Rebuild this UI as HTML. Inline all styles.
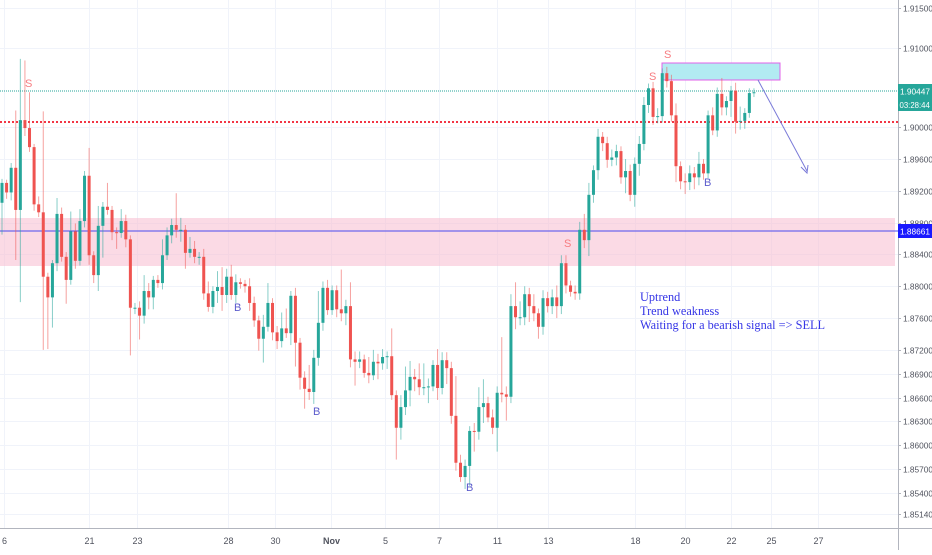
<!DOCTYPE html>
<html><head><meta charset="utf-8">
<style>
html,body{margin:0;padding:0;background:#fff;}
body{width:932px;height:550px;overflow:hidden;font-family:"Liberation Sans",sans-serif;}
svg text{font-family:"Liberation Sans",sans-serif;}
</style></head>
<body>
<svg id="chart" width="932" height="550" viewBox="0 0 932 550" xmlns="http://www.w3.org/2000/svg">
<rect x="0" y="0" width="932" height="550" fill="#fff"/>
<g id="grid"></g>
<rect x="0" y="218" width="895" height="48" fill="#f8bbd0" fill-opacity="0.55"/>
<line x1="0" y1="231" x2="898" y2="231" stroke="#4a4af0" stroke-width="1"/>
<line x1="0" y1="122" x2="898" y2="122" stroke="#f23645" stroke-width="2" stroke-dasharray="2,2"/>
<line x1="0" y1="91" x2="898" y2="91" stroke="#26a69a" stroke-width="1" stroke-dasharray="1,1"/>
<rect x="662" y="63" width="118" height="17" fill="#b2ebf2" stroke="#e060e8" stroke-width="1"/>
<g id="candles"></g>
<line x1="758" y1="80" x2="807" y2="171" stroke="#7a7ad8" stroke-width="1"/>
<path d="M801,167 L807,173 L808,165" fill="none" stroke="#7a7ad8" stroke-width="1"/>
<g font-size="11">
<text x="25" y="87" fill="#f77c80">S</text>
<text x="664" y="58" fill="#f77c80">S</text>
<text x="649" y="80" fill="#f77c80">S</text>
<text x="564" y="247" fill="#f77c80">S</text>
<text x="234" y="311" fill="#5c5ccc">B</text>
<text x="313" y="415" fill="#5c5ccc">B</text>
<text x="466" y="491" fill="#5c5ccc">B</text>
<text x="704" y="186" fill="#5c5ccc">B</text>
</g>
<g font-size="12.3" fill="#3535e6">
<text x="640" y="301" style="font-family:'Liberation Serif',serif">Uptrend</text>
<text x="640" y="315" style="font-family:'Liberation Serif',serif">Trend weakness</text>
<text x="640" y="329" style="font-family:'Liberation Serif',serif">Waiting for a bearish signal =&gt; SELL</text>
</g>
<rect x="898" y="0" width="34" height="550" fill="#fff"/>
<line x1="898.5" y1="0" x2="898.5" y2="550" stroke="#b2b5be"/>
<line x1="0" y1="528.5" x2="932" y2="528.5" stroke="#b2b5be"/>
<g id="yaxis"></g>
<g id="xaxis"></g>
<rect x="898" y="84" width="34" height="14" fill="#26a69a"/>
<text x="900" y="94.5" font-size="8.3" fill="#fff">1.90447</text>
<rect x="898" y="98" width="34" height="13" fill="#26a69a"/>
<text x="899.5" y="108" font-size="7.8" fill="#fff">03:28:44</text>
<rect x="898" y="224" width="34" height="14" fill="#1a1aff"/>
<text x="900" y="234.5" font-size="8.3" fill="#fff">1.88661</text>
</svg>
<script>
const closes=[1.8930,1.8918,1.8949,1.8896,1.9009,1.8999,1.8975,1.8903,1.8893,1.8812,
1.8786,1.8829,1.8891,1.8837,1.8808,1.8869,1.8832,1.8882,1.8939,1.8839,
1.8814,1.8876,1.8900,1.8896,1.8868,1.8867,1.8882,1.8859,1.8773,1.8773,
1.8763,1.8794,1.8786,1.8808,1.8804,1.8839,1.8864,1.8877,1.8871,1.8871,
1.8842,1.8847,1.8837,1.8837,1.8791,1.8774,1.8794,1.8799,1.8789,1.8812,
1.8789,1.8805,1.8803,1.8800,1.8779,1.8757,1.8734,1.8749,1.8779,1.8742,
1.8731,1.8747,1.8741,1.8788,1.8729,1.8685,1.8671,1.8667,1.8710,1.8754,
1.8798,1.8770,1.8795,1.8771,1.8766,1.8775,1.8708,1.8705,1.8708,1.8691,
1.8688,1.8705,1.8703,1.8711,1.8712,1.8663,1.8622,1.8648,1.8669,1.8686,
1.8683,1.8673,1.8673,1.8674,1.8701,1.8672,1.8707,1.8697,1.8637,1.8578,
1.8560,1.8574,1.8618,1.8617,1.8648,1.8653,1.8635,1.8622,1.8666,1.8664,
1.8661,1.8775,1.8761,1.8761,1.8790,1.8775,1.8766,1.8749,1.8785,1.8775,
1.8786,1.8775,1.8829,1.8801,1.8793,1.8791,1.8871,1.8858,1.8915,1.8946,
1.8988,1.8980,1.8959,1.8962,1.8970,1.8937,1.8945,1.8915,1.8954,1.8979,
1.9028,1.9049,1.9013,1.9014,1.9068,1.9058,1.9015,1.8951,1.8932,1.8931,
1.8942,1.8937,1.8954,1.8942,1.9015,1.8996,1.9042,1.9025,1.9033,1.9046,
1.9007,1.9008,1.9018,1.9043,1.9044];
const wickUpPips=[5,4,6,72,77,75,45,4,10,127, 5,4,20,8,6,25,10,15,6,35, 5,25,6,30,5,6,15,8,5,6,
8,20,10,5,6,20,10,8,40,15, 6,15,10,6,10,15,6,20,25,10, 15,10,5,5,10,8,6,15,25,6,
8,20,25,6,10,6,8,30,10,40, 8,10,6,6,50,8,30,10,10,6, 20,15,10,10,6,35,6,15,30,20,
10,20,30,10,6,20,10,10,8,50, 10,8,6,10,25,30,8,10,8,70, 10,15,30,20,10,8,15,6,10,8,
10,15,10,10,6,8,10,20,15,6, 10,6,8,10,8,6,15,8,8,10, 10,6,8,10,6,8,8,15,6,10,
10,8,15,6,6,10,8,20,6,6, 10,18,6,6,5];
const wickDownPips=[40,8,10,63,116,10,6,8,6,92, 65,38,10,6,30,6,10,6,8,12, 10,20,40,6,10,20,6,10,60,8,
30,10,15,15,6,8,6,10,10,15, 20,6,8,10,8,6,8,15,20,10, 6,10,6,8,10,8,15,30,6,10,
10,8,6,15,30,15,25,10,15,10, 10,6,6,10,10,15,10,30,8,6, 10,6,20,8,15,6,40,15,10,20,
15,10,10,20,6,15,8,20,10,10, 6,15,25,25,10,20,6,8,30,10, 30,8,15,10,10,20,10,15,10,8,
10,15,10,10,6,8,8,10,20,10, 12,10,10,8,10,8,20,8,15,15, 8,10,10,8,8,8,8,20,10,15,
10,15,10,8,6,6,8,10,10,20, 15,10,10,6,5];
const firstOpen=1.8905;
const priceTicks=["1.91500","1.91000","1.90000","1.89600","1.89200","1.88800","1.88400","1.88000","1.87600","1.87200","1.86900","1.86600","1.86300","1.86000","1.85700","1.85400","1.85140"];
const dateLabels=["6","21","23","28","30","Nov","5","7","11","13","18","20","22","25","27"];
const dateBarIndex=[0.5,19,29.5,49.4,59.5,71.7,83.5,95.3,108,119,138,149,159,167.8,178];

const NS="http://www.w3.org/2000/svg";
function yScale(p){return 8+(1.915-p)*7950;}
function xScale(i){return 2+i*4.585;}
function mk(tag,attrs,parent){const e=document.createElementNS(NS,tag);for(const k in attrs)e.setAttribute(k,attrs[k]);parent.appendChild(e);return e;}

const grid=document.getElementById('grid');
const yaxis=document.getElementById('yaxis');
priceTicks.forEach(t=>{
  const y=Math.round(yScale(parseFloat(t)))+0.5;
  const gl=mk('line',{x1:0,y1:y,x2:898,y2:y,stroke:'#f0f3fa','stroke-width':1},grid);
  
  
  const tk=mk('line',{x1:898,y1:y,x2:901,y2:y,stroke:'#b2b5be'},yaxis);
  
  
  const tx=mk('text',{x:903,y:y+3,'font-size':8.3,fill:'#50535e'},yaxis);
  tx.textContent=t;
  
  
});
const xaxis=document.getElementById('xaxis');
dateLabels.forEach((d,k)=>{
  const x=Math.round(xScale(dateBarIndex[k]))+0.5;
  const gl=mk('line',{x1:x,y1:0,x2:x,y2:528,stroke:'#f0f3fa','stroke-width':1},grid);
  
  
  const tx=mk('text',{x:x,y:544,'font-size':9,fill:'#50535e','text-anchor':'middle','font-weight':d==='Nov'?'bold':'normal'},xaxis);
  tx.textContent=d;
  
  
});

const cg=document.getElementById('candles');
closes.forEach((c,i)=>{
  const o=i===0?firstOpen:closes[i-1];
  const hi=Math.max(o,c)+wickUpPips[i]*0.0001;
  const lo=Math.min(o,c)-wickDownPips[i]*0.0001;
  const up=c>=o;
  const col=up?'#26a69a':'#ef5350';
  const x=xScale(i);
  const g=mk('g',{},cg);
  
  
  const w=mk('line',{x1:x,y1:yScale(hi),x2:x,y2:yScale(lo),stroke:col,'stroke-opacity':0.55,'stroke-width':1},g);
  
  
  const yt=yScale(Math.max(o,c)),yb=yScale(Math.min(o,c));
  const b=mk('rect',{x:x-1.5,y:yt,width:3,height:Math.max(1,yb-yt),fill:col},g);
  
  
});
</script>
</body></html>
